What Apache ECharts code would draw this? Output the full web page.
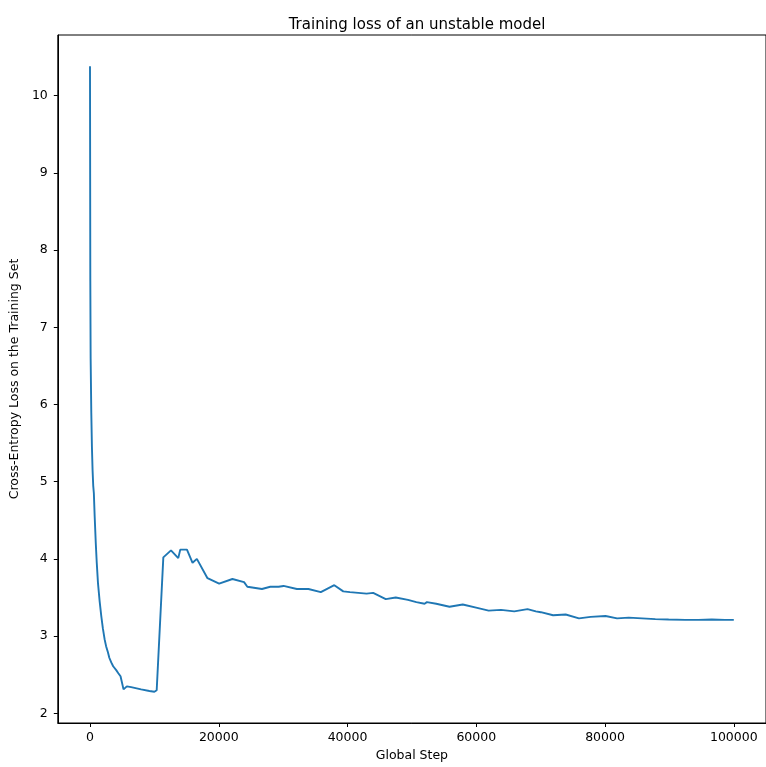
<!DOCTYPE html>
<html>
<head>
<meta charset="utf-8">
<script src="https://cdn.jsdelivr.net/npm/echarts@6/dist/echarts.min.js"></script>
<style>
html,body{margin:0;padding:0;background:#fff;}
#chart{width:766px;height:767px;}
</style>
</head>
<body>
<div id="chart"></div>
<script>
const titleText = "Training loss of an unstable model";
const xName = "Global Step";
const yName = "Cross-Entropy Loss on the Training Set";
const xTicks = [0, 20000, 40000, 60000, 80000, 100000];
const yTicks = [2, 3, 4, 5, 6, 7, 8, 9, 10];
const steps = [0, 50, 100, 200, 300, 400, 500, 600, 727, 900, 1050, 1237, 1500, 1753, 2000, 2269, 2500, 2784, 3000, 3300, 3600, 4073, 4400, 4743, 5000, 5207, 5723, 6393, 7940, 9226, 10000, 10360,
  11390, 12580, 13710, 14020, 15060, 15930, 16600, 18250, 20060, 22120, 23930, 24440, 26710, 28000, 29290, 30060, 32130, 33930, 35850, 37950, 39340, 40380, 42960, 43980, 45940, 47490, 49390, 50690, 51970, 52330, 53780, 55840, 57900, 59970, 61920, 63840, 65900, 67960, 69250, 70020, 71930, 73890, 75950, 77760, 80080, 81870, 83680, 85740, 87810, 89870, 92450, 94510, 96570, 98630, 100000];
const loss = [10.38, 7.6, 6.6, 5.9, 5.45, 5.15, 4.95, 4.85, 4.55, 4.2, 3.95, 3.69, 3.45, 3.26, 3.1, 2.96, 2.87, 2.79, 2.72, 2.66, 2.61, 2.56, 2.52, 2.48, 2.46, 2.31, 2.35, 2.34, 2.31, 2.29, 2.28, 2.30,
  4.02, 4.11, 4.01, 4.12, 4.12, 3.95, 4.00, 3.75, 3.68, 3.74, 3.70, 3.64, 3.61, 3.64, 3.64, 3.65, 3.61, 3.61, 3.57, 3.66, 3.58, 3.57, 3.55, 3.56, 3.48, 3.50, 3.47, 3.44, 3.42, 3.44, 3.42, 3.38, 3.41, 3.37, 3.33, 3.34, 3.32, 3.35, 3.32, 3.31, 3.27, 3.28, 3.23, 3.25, 3.26, 3.23, 3.24, 3.23, 3.22, 3.215, 3.21, 3.21, 3.215, 3.21, 3.21];

const chart = echarts.init(document.getElementById('chart'), null, {renderer: 'canvas'});
const font = 'DejaVu Sans';
chart.setOption({
  animation: false,
  backgroundColor: '#fff',
  title: {
    text: titleText,
    left: 412, textAlign: 'center', top: 13,
    textStyle: {fontFamily: font, fontSize: 15, fontWeight: 'normal', color: '#000'}
  },
  grid: {left: 57, top: 35, bottom: 39, width: 711, show: true, borderColor: '#000', borderWidth: 1, backgroundColor: 'transparent'},
  xAxis: {
    type: 'value', min: -5000, max: 105000,
    name: xName, nameLocation: 'middle', nameGap: 26,
    nameTextStyle: {fontFamily: font, fontSize: 12.5, color: '#000'},
    splitLine: {show: false},
    axisLine: {show: true, onZero: false, lineStyle: {color: '#000', width: 1}},
    axisTick: {show: true, length: 4, inside: false, customValues: xTicks, lineStyle: {color: '#000'}},
    axisLabel: {customValues: xTicks, margin: 8, fontFamily: font, fontSize: 12.5, color: '#000', formatter: v => String(v)}
  },
  yAxis: {
    type: 'value', min: 1.875, max: 10.785,
    name: yName, nameLocation: 'middle', nameGap: 32, nameRotate: 90,
    nameTextStyle: {fontFamily: font, fontSize: 12.5, color: '#000'},
    splitLine: {show: false},
    axisLine: {show: true, onZero: false, lineStyle: {color: '#000', width: 1}},
    axisTick: {show: true, length: 4, inside: false, customValues: yTicks, lineStyle: {color: '#000'}},
    axisLabel: {customValues: yTicks, margin: 10, fontFamily: font, fontSize: 12.5, color: '#000', formatter: v => String(v)}
  },
  series: [{
    type: 'line',
    data: steps.map((s, i) => [s, loss[i]]),
    showSymbol: false,
    symbol: 'none',
    lineStyle: {color: '#1f77b4', width: 1.9},
    clip: true
  }]
});
</script>
</body>
</html>
